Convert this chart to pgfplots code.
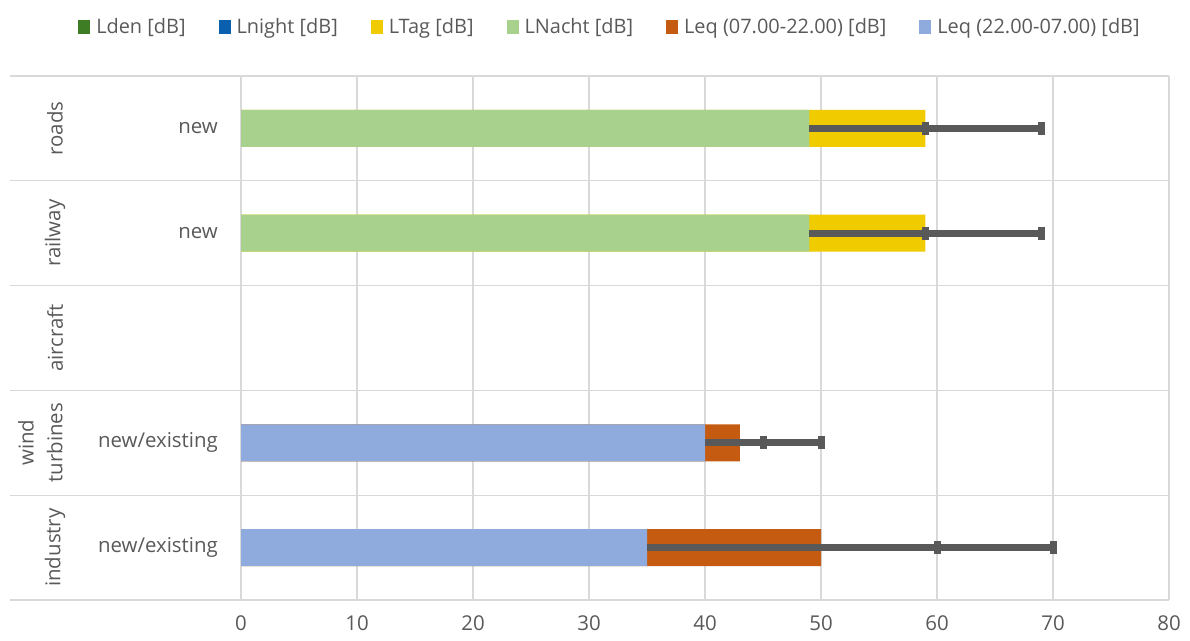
\documentclass[border=0pt]{standalone}
\usepackage{pgfplots}
\pgfplotsset{compat=1.18}
\usepackage{fontspec}
\setmainfont{Open Sans}
\definecolor{cLden}{HTML}{3F7D24}
\definecolor{cLnight}{HTML}{0A60AE}
\definecolor{cLTag}{HTML}{EFCB00}
\definecolor{cLNacht}{HTML}{A9D18E}
\definecolor{cLeqD}{HTML}{C55A11}
\definecolor{cLeqN}{HTML}{8FAADC}
\definecolor{cErr}{HTML}{595959}
\definecolor{cTxt}{HTML}{595959}
\definecolor{cGrid}{HTML}{D9D9D9}
\begin{document}
\begin{tikzpicture}
\path[use as bounding box] (0,0) rectangle (1190bp,641bp);
\begin{axis}[
 at={(241bp,41bp)}, anchor=south west,
 width=928bp, height=524bp, scale only axis,
 xmin=0, xmax=80, ymin=-0.5, ymax=4.5,
 xtick={0,10,...,80},
 ytick={0,1,2,3,4},
 yticklabels={new/existing,new/existing,{},new,new},
 axis line style={draw=none},
 tick style={draw=none},
 xmajorgrids, grid style={cGrid, line width=1.2bp},
 /pgf/number format/assume math mode=true,
 xticklabel style={font=\fontsize{20.5}{24}\selectfont, text=cTxt, inner sep=0pt, anchor=north, yshift=-15bp},
 yticklabel style={font=\fontsize{20.5}{24}\selectfont, text=cTxt, inner sep=0pt, anchor=east, xshift=-23bp},
 clip=false,
 legend columns=6,
 legend image code/.code={\draw[#1, draw=none] (0bp,-7bp) rectangle (12bp,7bp);},
 legend style={draw=none, fill=none, at={(0.3976,1.0935)}, anchor=center,
   font=\fontsize{20}{24}\selectfont, text=cTxt,
   /tikz/every odd column/.style={column sep=4bp},
   /tikz/every even column/.style={column sep=31bp}},
]
% separators
\foreach \yy in {-0.5,0.5,1.5,2.5,3.5,4.5}{
  \edef\tmp{\noexpand\draw[cGrid, line width=1.2bp] (axis cs:-19.9,\yy) -- (axis cs:80,\yy);}
  \tmp
}
% bars (totals drawn first, lower segment on top)
\addplot[xbar, bar width=37bp, bar shift=0pt, fill=cLTag, draw=none, forget plot] coordinates {(59,4) (59,3)};
\addplot[xbar, bar width=37bp, bar shift=0pt, fill=cLNacht, draw=none, forget plot] coordinates {(49,4) (49,3)};
\addplot[xbar, bar width=37bp, bar shift=0pt, fill=cLeqD, draw=none, forget plot] coordinates {(43,1) (50,0)};
\addplot[xbar, bar width=37bp, bar shift=0pt, fill=cLeqN, draw=none, forget plot] coordinates {(40,1) (35,0)};
% range lines
\addplot[cErr, line width=7bp, no marks, forget plot] coordinates {(49,4) (69,4)};
\addplot[cErr, line width=7bp, no marks, forget plot] coordinates {(49,3) (69,3)};
\addplot[cErr, line width=7bp, no marks, forget plot] coordinates {(40,1) (50,1)};
\addplot[cErr, line width=7bp, no marks, forget plot] coordinates {(35,0) (70,0)};
\addplot[only marks, mark=|, mark size=6.5bp, mark options={cErr, line width=7bp}, forget plot]
  coordinates {(59,4) (69,4) (59,3) (69,3) (45,1) (50,1) (60,0) (70,0)};
% legend
\addlegendimage{fill=cLden}\addlegendentry{Lden [dB]}
\addlegendimage{fill=cLnight}\addlegendentry{Lnight [dB]}
\addlegendimage{fill=cLTag}\addlegendentry{LTag [dB]}
\addlegendimage{fill=cLNacht}\addlegendentry{LNacht [dB]}
\addlegendimage{fill=cLeqD}\addlegendentry{Leq (07.00-22.00) [dB]}
\addlegendimage{fill=cLeqN}\addlegendentry{Leq (22.00-07.00) [dB]}
% group labels
\node[rotate=90, font=\fontsize{20.5}{29}\selectfont, text=cTxt] at (axis cs:-16.03,4) {roads};
\node[rotate=90, font=\fontsize{20.5}{29}\selectfont, text=cTxt] at (axis cs:-16.03,3) {railway};
\node[rotate=90, font=\fontsize{20.5}{29}\selectfont, text=cTxt] at (axis cs:-16.03,2) {aircraft};
\node[rotate=90, font=\fontsize{20.5}{29}\selectfont, text=cTxt, align=center] at (axis cs:-17.3,1) {wind\\turbines};
\node[rotate=90, font=\fontsize{20.5}{29}\selectfont, text=cTxt] at (axis cs:-16.03,0) {industry};
\end{axis}
\end{tikzpicture}
\end{document}
